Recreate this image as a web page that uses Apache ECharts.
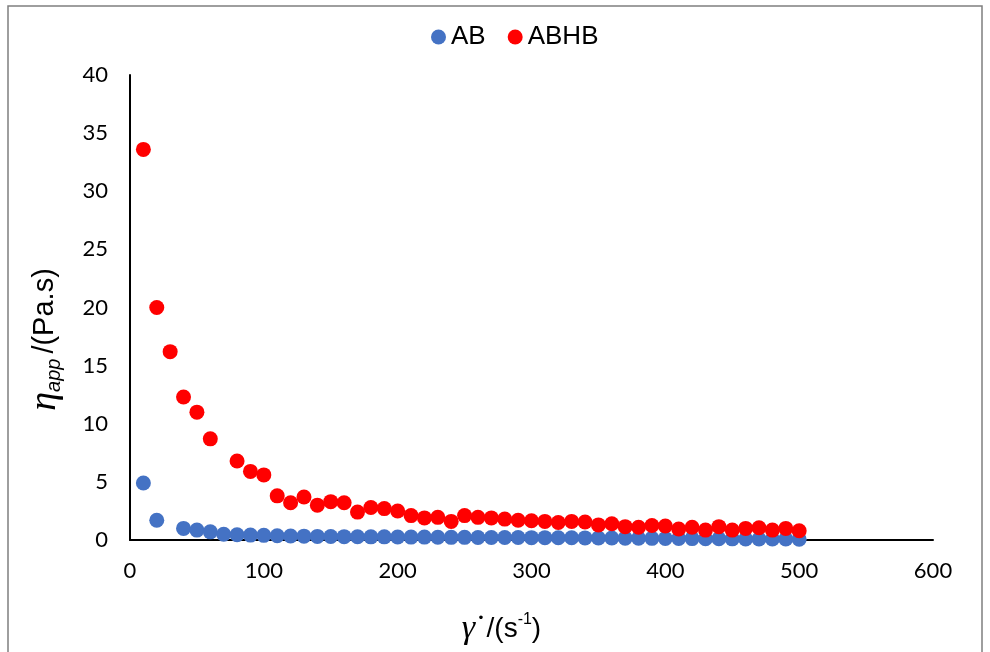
<!DOCTYPE html>
<html>
<head>
<meta charset="utf-8">
<script src="https://cdn.jsdelivr.net/npm/echarts@6/dist/echarts.min.js"></script>
<style>
  html, body { margin: 0; padding: 0; background: #fff; }
  #chart { width: 990px; height: 652px; }
</style>
</head>
<body>
<div id="chart"></div>
<script>
// shear rate (1/s) and apparent viscosity (Pa.s)
var abX = [10, 20, 40, 50, 60, 70, 80, 90, 100, 110, 120, 130, 140, 150, 160, 170, 180, 190, 200,
  210, 220, 230, 240, 250, 260, 270, 280, 290, 300, 310, 320, 330, 340, 350, 360, 370, 380, 390, 400,
  410, 420, 430, 440, 450, 460, 470, 480, 490, 500];
var abY = [4.9, 1.7, 1.0, 0.85, 0.7, 0.5, 0.45, 0.42, 0.4, 0.37, 0.35, 0.33, 0.31, 0.3, 0.29, 0.28, 0.27, 0.27, 0.26,
  0.25, 0.25, 0.24, 0.23, 0.23, 0.22, 0.22, 0.21, 0.21, 0.2, 0.2, 0.19, 0.19, 0.18, 0.17, 0.17, 0.16, 0.15, 0.14, 0.13,
  0.13, 0.12, 0.11, 0.11, 0.1, 0.09, 0.09, 0.08, 0.08, 0.07];

var abhbX = [10, 20, 30, 40, 50, 60, 80, 90, 100, 110, 120, 130, 140, 150, 160, 170, 180, 190, 200,
  210, 220, 230, 240, 250, 260, 270, 280, 290, 300, 310, 320, 330, 340, 350, 360, 370, 380, 390, 400,
  410, 420, 430, 440, 450, 460, 470, 480, 490, 500];
var abhbY = [33.6, 20.0, 16.2, 12.3, 11.0, 8.7, 6.8, 5.9, 5.6, 3.8, 3.2, 3.7, 3.0, 3.3, 3.2, 2.4, 2.8, 2.7, 2.5,
  2.1, 1.9, 1.95, 1.6, 2.1, 1.95, 1.9, 1.8, 1.7, 1.65, 1.6, 1.5, 1.6, 1.55, 1.3, 1.4, 1.15, 1.1, 1.25, 1.2,
  0.95, 1.1, 0.85, 1.15, 0.85, 1.0, 1.05, 0.85, 1.0, 0.8];

var xTicks = [0, 100, 200, 300, 400, 500, 600];
var yTicks = [0, 5, 10, 15, 20, 25, 30, 35, 40];

function pairs(xs, ys) {
  var out = [];
  for (var i = 0; i < xs.length; i++) out.push([xs[i], ys[i]]);
  return out;
}

var tickFont = { fontFamily: 'Lato', fontSize: 22, color: '#000' };

var chart = echarts.init(document.getElementById('chart'));
chart.setOption({
  animation: false,
  backgroundColor: '#fff',
  graphic: [{
    type: 'rect',
    shape: { x: 8, y: 6, width: 974, height: 660 },
    style: { fill: 'none', stroke: '#7f7f7f', lineWidth: 1.5 },
    silent: true
  }],
  legend: {
    left: 426, top: 19,
    itemWidth: 15, itemHeight: 15, itemGap: 22,
    icon: 'circle',
    textStyle: { fontFamily: 'Liberation Sans', fontSize: 26, color: '#000' },
    data: ['AB', 'ABHB']
  },
  grid: { left: 130, right: 57, top: 75, bottom: 112 },
  xAxis: {
    type: 'value', min: xTicks[0], max: xTicks[xTicks.length - 1], interval: 100,
    axisLine: { lineStyle: { color: '#000', width: 2 } },
    axisTick: { show: false },
    splitLine: { show: false },
    axisLabel: Object.assign({ margin: 20 }, tickFont),
    name: '{g|γ}{d|˙}{t|/(s}{sup|-1}{t|)}',
    nameLocation: 'middle', nameGap: 72,
    nameTextStyle: {
      padding: [0, 60, 0, 0],
      rich: {
        g: { fontFamily: 'Liberation Serif', fontStyle: 'italic', fontSize: 34, color: '#000' },
        d: { fontFamily: 'Liberation Serif', fontSize: 34, color: '#000' },
        t: { fontFamily: 'Liberation Sans', fontSize: 28, color: '#000' },
        sup: { fontFamily: 'Liberation Sans', fontSize: 16, color: '#000', verticalAlign: 'top', padding: [0, 0, 12, 0] }
      }
    }
  },
  yAxis: {
    type: 'value', min: yTicks[0], max: yTicks[yTicks.length - 1], interval: 5,
    axisLine: { show: true, lineStyle: { color: '#000', width: 2 } },
    axisTick: { show: false },
    splitLine: { show: false },
    axisLabel: Object.assign({ margin: 22 }, tickFont),
    name: '{e|η}{sub|app}{t|/(Pa.s)}',
    nameLocation: 'middle', nameGap: 66, nameRotate: 90,
    nameTextStyle: {
      padding: [0, 64, 0, 0],
      rich: {
        e: { fontFamily: 'Liberation Serif', fontStyle: 'italic', fontSize: 38, color: '#000' },
        sub: { fontFamily: 'Liberation Sans', fontStyle: 'italic', fontSize: 20, color: '#000', verticalAlign: 'bottom', padding: [12, 5, 0, 0] },
        t: { fontFamily: 'Liberation Sans', fontSize: 29, color: '#000' }
      }
    }
  },
  series: [{
    name: 'AB', type: 'scatter', symbolSize: 15,
    itemStyle: { color: '#4472C4', opacity: 1 },
    data: pairs(abX, abY)
  }, {
    name: 'ABHB', type: 'scatter', symbolSize: 15,
    itemStyle: { color: '#FF0000', opacity: 1 },
    data: pairs(abhbX, abhbY)
  }]
});
</script>
</body>
</html>
